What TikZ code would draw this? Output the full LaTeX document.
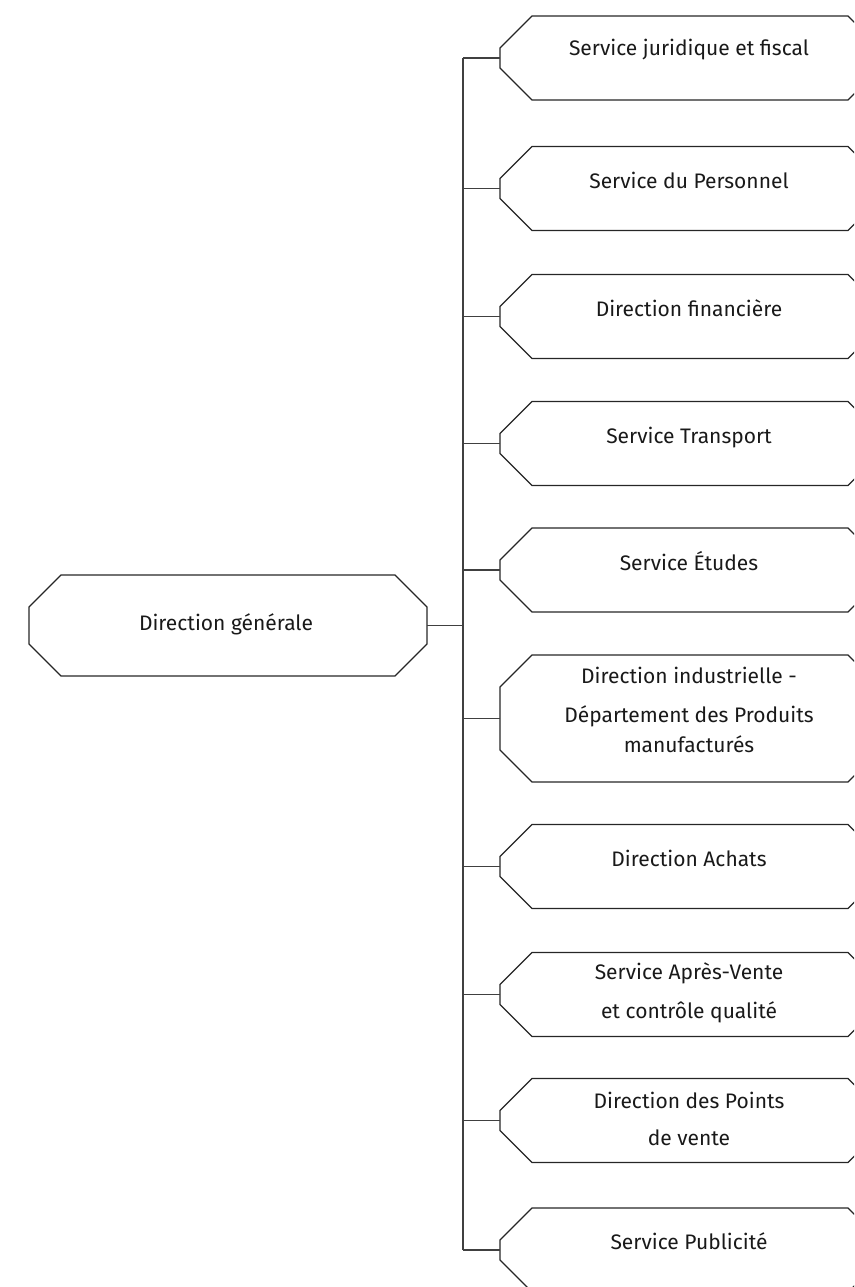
\documentclass[tikz,border=0pt]{standalone}
\usepackage{fontspec}
\setmainfont{Fira Sans}
\usetikzlibrary{calc}

\tikzset{
  boxline/.style={draw=black!85, line width=1.1pt, line join=miter},
  linkline/.style={draw=black!75, line width=1.1pt},
  frame/.style={draw=none, rectangle, inner sep=0pt, outer sep=0pt,
                minimum width=380pt, minimum height=#1},
  lbl/.style={anchor=base, inner sep=0pt, outer sep=0pt,
              font=\fontsize{21}{25}\selectfont, text=black!90},
}

% octagonal outline built on the corners of a named frame node
\newcommand\chamferbox[1]{%
  \draw[boxline] ([xshift=32pt]#1.north west) -- ([xshift=-32pt]#1.north east)
    -- ([yshift=-32pt]#1.north east) -- ([yshift=32pt]#1.south east)
    -- ([xshift=-32pt]#1.south east) -- ([xshift=32pt]#1.south west)
    -- ([yshift=32pt]#1.south west) -- ([yshift=-32pt]#1.north west) -- cycle;}

\begin{document}
\begin{tikzpicture}[x=1pt,y=-1pt]
  \path[use as bounding box, clip] (0,0) rectangle (854,1287);

  % head of the organisation
  \node[frame=101pt, minimum width=398pt] (dg) at (228,625.5) {};
  \chamferbox{dg}
  \node[lbl] (tdg) at (226,630) {Direction générale};

  % departments
  \foreach \n/\y/\h in {1/58/84, 2/188.5/84, 3/316.5/84, 4/443.5/84, 5/570/84,
                        6/718.5/127, 7/866.5/84, 8/994.5/84, 9/1120.5/84, 10/1250/84} {
    \node[frame=\h pt] (s\n) at (690,\y) {};
    \chamferbox{s\n}
  }

  \node[lbl] (t1)  at (689,56)   {Service juridique et fiscal};
  \node[lbl] (t2)  at (689,188)  {Service du Personnel};
  \node[lbl] (t3)  at (689,316)  {Direction financière};
  \node[lbl] (t4)  at (689,443)  {Service Transport};
  \node[lbl] (t5)  at (689,570)  {Service Études};
  \node[lbl] (t6a) at (689,683)  {Direction industrielle -};
  \node[lbl] (t6b) at (689,722)  {Département des Produits};
  \node[lbl] (t6c) at (689,752)  {manufacturés};
  \node[lbl] (t7)  at (689,866)  {Direction Achats};
  \node[lbl] (t8a) at (689,979)  {Service Après-Vente};
  \node[lbl] (t8b) at (689,1018) {et contrôle qualité};
  \node[lbl] (t9a) at (689,1108) {Direction des Points};
  \node[lbl] (t9b) at (689,1145) {de vente};
  \node[lbl] (t10) at (689,1249) {Service Publicité};

  % connector tree
  \coordinate (tk) at (463,0);
  \draw[linkline] (s1.west -| tk) -- (s10.west -| tk);
  \draw[linkline] (dg.east) -- (dg.east -| tk);
  \foreach \n in {1,...,10} {
    \draw[linkline] (s\n.west) -- (s\n.west -| tk);
  }
\end{tikzpicture}
\end{document}
